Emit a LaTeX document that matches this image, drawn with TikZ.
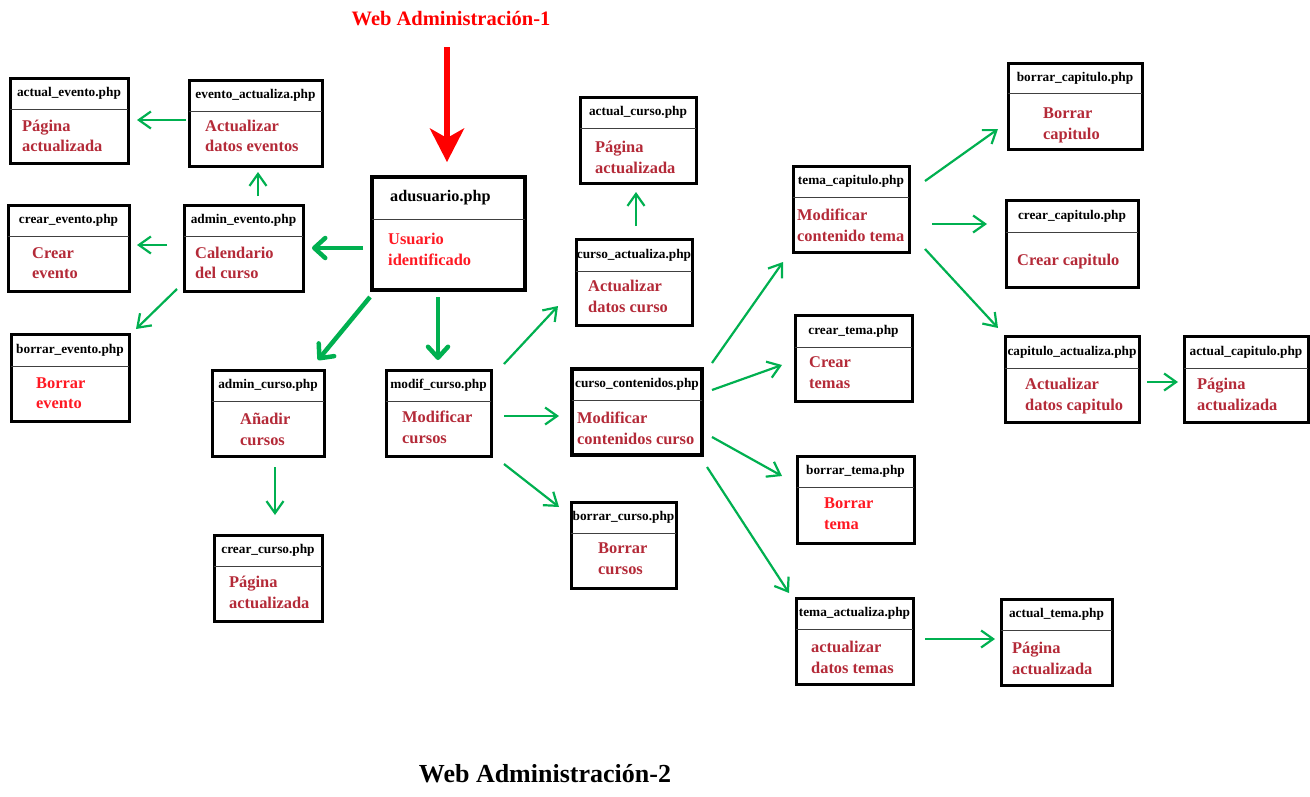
\documentclass[tikz,border=0pt]{standalone}
\usepackage{fontspec}
\setmainfont{Liberation Serif}
\usetikzlibrary{arrows.meta,fit}

\definecolor{darkred}{RGB}{180,42,56}
\definecolor{brightred}{RGB}{255,25,35}
\definecolor{flowgreen}{RGB}{0,176,80}

% A page box: frame, thin divider under the file name, centred file name
% #1 extra frame style, #2 name, #3 x1, #4 y1, #5 x2, #6 y2, #7 divider y, #8 file name
\newcommand\phpbox[8][]{%
  \node[box,#1,fit={(#3,#4)(#5,#6)}] (#2) {};
  \draw[divider] (#3,#7) -- (#5,#7);
  \node[hdr] (#2-h) at ({(#3+#5)/2},{(#4+#7)/2}) {#8};
}
% Two lines of description, first baseline at (#3,#4)
\newcommand\bodytwo[6][]{%
  \node[bodytxt,#1] (#2-1) at (#3,#4) {#5};
  \node[bodytxt,#1] (#2-2) at (#3,#4+20.5) {#6};
}

\begin{document}
\begin{tikzpicture}[x=1pt,y=-1pt,
  box/.style={draw=black, line width=3pt, fill=white, inner sep=0pt, outer sep=0pt},
  divider/.style={draw=black!75, line width=1pt},
  hdr/.style={font=\fontsize{13.3}{15}\selectfont\bfseries, inner sep=0pt, text=black},
  bodytxt/.style={anchor=base west, inner sep=0pt, font=\fontsize{16.4}{20}\selectfont\bfseries, text=darkred},
  hot/.style={text=brightred},
  flow/.style={draw=flowgreen, line width=2.2pt, -{Straight Barb[length=12pt,width=17pt]}},
  mainflow/.style={draw=flowgreen, line width=4.5pt, -{Straight Barb[length=11pt,width=20pt,round]}},
  entry/.style={draw=red, line width=6pt, -{Stealth[length=34pt,width=35pt,inset=10pt,line width=0pt]}},
]
\useasboundingbox (0,0) rectangle (1310,796);
\fill[white] (0,0) rectangle (1310,796);

% titles
\node[anchor=base, inner sep=0pt, text=red, font=\fontsize{20.5}{24}\selectfont\bfseries] (title1) at (451,25) {Web Administración-1};
\node[anchor=base, inner sep=0pt, text=black, font=\fontsize{26}{30}\selectfont\bfseries] (title2) at (545,782) {Web Administración-2};

% event pages
\phpbox{ae}{10}{78}{128}{163}{109}{actual\_evento.php}
\bodytwo{ae}{22}{131}{Página}{actualizada}
\phpbox{eva}{189}{80}{322}{166}{111}{evento\_actualiza.php}
\bodytwo{eva}{205}{131}{Actualizar}{datos eventos}
\phpbox{ce}{8}{205}{129}{291}{236}{crear\_evento.php}
\bodytwo{ce}{32}{258}{Crear}{evento}
\phpbox{aev}{184}{205}{303}{291}{236}{admin\_evento.php}
\bodytwo{aev}{195}{258}{Calendario}{del curso}
\phpbox{be}{11}{334}{129}{421}{366}{borrar\_evento.php}
\bodytwo[hot]{be}{36}{388}{Borrar}{evento}

% entry page
\node[box, line width=4pt, fit={(372,177)(525,290)}] (adu) {};
\draw[divider] (372,219) -- (525,219);
\node[hdr, font=\fontsize{16.2}{18}\selectfont\bfseries, anchor=west] (adu-h) at (390,198) {adusuario.php};
\bodytwo[hot]{adu}{388}{244.5}{Usuario}{identificado}

% course pages
\phpbox{ac}{212}{370}{324}{456}{401}{admin\_curso.php}
\bodytwo{ac}{240}{424.5}{Añadir}{cursos}
\phpbox{cc}{214}{535}{322}{621}{566}{crear\_curso.php}
\bodytwo{cc}{229}{587.5}{Página}{actualizada}
\phpbox{mc}{386}{370}{491}{456}{401}{modif\_curso.php}
\bodytwo{mc}{402}{422.5}{Modificar}{cursos}
\phpbox{acu}{580}{97}{696}{183}{128}{actual\_curso.php}
\bodytwo{acu}{595}{152.5}{Página}{actualizada}
\phpbox{cau}{576}{239}{692}{325}{271}{curso\_actualiza.php}
\bodytwo{cau}{588}{291.5}{Actualizar}{datos curso}
\phpbox[line width=3.6pt]{cco}{572}{369}{702}{455}{400}{curso\_contenidos.php}
\bodytwo{cco}{577}{423.5}{Modificar}{contenidos curso}
\phpbox{bc}{571}{502}{676}{588}{533}{borrar\_curso.php}
\bodytwo{bc}{598}{553.5}{Borrar}{cursos}

% topic pages
\phpbox{tc}{793}{166}{909}{252}{197}{tema\_capitulo.php}
\bodytwo{tc}{797}{220.5}{Modificar}{contenido tema}
\phpbox{ct}{795}{315}{912}{401}{347}{crear\_tema.php}
\bodytwo{ct}{809}{367.5}{Crear}{temas}
\phpbox{bt}{797}{456}{914}{543}{487}{borrar\_tema.php}
\bodytwo[hot]{bt}{824}{508.5}{Borrar}{tema}
\phpbox{ta}{796}{598}{913}{684}{629}{tema\_actualiza.php}
\bodytwo{ta}{811}{652.5}{actualizar}{datos temas}
\phpbox{atema}{1001}{599}{1112}{685}{630}{actual\_tema.php}
\bodytwo{atema}{1012}{653.5}{Página}{actualizada}

% chapter pages
\phpbox{bca}{1008}{63}{1142}{149}{93}{borrar\_capitulo.php}
\bodytwo{bca}{1043}{118.5}{Borrar}{capitulo}
\phpbox{cca}{1006}{200}{1138}{287}{232}{crear\_capitulo.php}
\node[bodytxt] (cca-1) at (1017,265.5) {Crear capitulo};
\phpbox{caa}{1005}{336}{1139}{422}{368}{capitulo\_actualiza.php}
\bodytwo{caa}{1025}{389.5}{Actualizar}{datos capitulo}
\phpbox{aca}{1184}{336}{1308}{422}{368}{actual\_capitulo.php}
\bodytwo{aca}{1197}{389.5}{Página}{actualizada}

% entry arrow
\coordinate (entrytop) at (447,47);
\draw[entry] (entrytop) -- ([shift={(-1.5,-15)}]adu.north);

% main links from the entry page
\draw[mainflow] ([shift={(-9,14.5)}]adu.west) -- ([shift={(9,0)}]aev.east);
\draw[mainflow] ([shift={(-2,7)}]adu.south west) -- ([shift={(-6,-10)}]ac.north east);
\draw[mainflow] ([shift={(-10.5,7)}]adu.south) -- ([shift={(-0.5,-10)}]mc.north);

% event links
\draw[flow] ([shift={(-3,-3)}]eva.west) -- ([shift={(9,-0.5)}]ae.east);
\draw[flow] ([shift={(14.5,-9)}]aev.north) -- ([shift={(2.5,6)}]eva.south);
\draw[flow] ([shift={(-17,-3)}]aev.west) -- ([shift={(8,-3)}]ce.east);
\draw[flow] ([shift={(-7,-2)}]aev.south west) -- ([shift={(7,-5)}]be.north east);

% course links
\draw[flow] ([shift={(7,11)}]ac.south) -- ([shift={(7,-20)}]cc.north);
\draw[flow] ([shift={(13,-6)}]mc.north east) -- ([shift={(-18,-19)}]cau.south west);
\draw[flow] ([shift={(13,3)}]mc.east) -- ([shift={(-13,4)}]cco.west);
\draw[flow] ([shift={(13,8)}]mc.south east) -- ([shift={(-12,5)}]bc.north west);
\draw[flow] ([shift={(2,-13)}]cau.north) -- ([shift={(-2,9)}]acu.south);

% topic links
\draw[flow] ([shift={(10,-6)}]cco.north east) -- ([shift={(-10,10)}]tc.south west);
\draw[flow] ([shift={(10,-22)}]cco.east) -- ([shift={(-13,7)}]ct.west);
\draw[flow] ([shift={(10,25)}]cco.east) -- ([shift={(-15,-23.5)}]bt.west);
\draw[flow] ([shift={(5,12)}]cco.south east) -- ([shift={(-7,-5)}]ta.north west);
\draw[flow] ([shift={(12,-2)}]ta.east) -- ([shift={(-6,-3)}]atema.west);

% chapter links
\draw[flow] ([shift={(16,15)}]tc.north east) -- ([shift={(-10,23)}]bca.west);
\draw[flow] ([shift={(23,15)}]tc.east) -- ([shift={(-19,-19.5)}]cca.west);
\draw[flow] ([shift={(16,-3)}]tc.south east) -- ([shift={(-7,-8)}]caa.north west);
\draw[flow] ([shift={(8,3)}]caa.east) -- ([shift={(-6,3)}]aca.west);
\end{tikzpicture}
\end{document}
